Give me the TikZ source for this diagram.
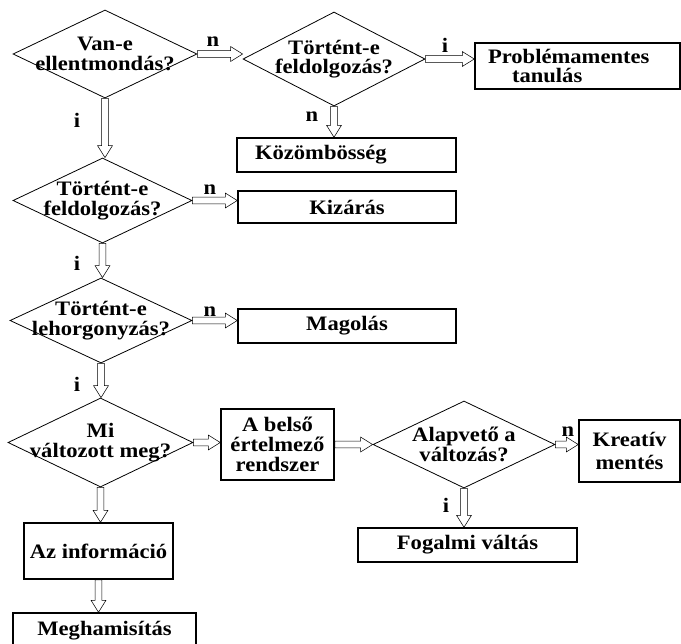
\documentclass[tikz,border=0pt]{standalone}
\usepackage{fontspec}
\setmainfont{Liberation Serif}[FakeStretch=1.1]
\usetikzlibrary{shapes.geometric}
\usetikzlibrary{calc}
\tikzset{
  Betu/.style={font=\fontsize{15.4pt}{14.8pt}\selectfont\bfseries}, % szoveg
  Dontes/.style 2 args={shape=diamond, draw, line width=0.6pt, Betu,
    minimum width={#1*0.75pt}, minimum height={#2*0.75pt},
    inner sep=-100pt, align=center}, % rombusz
  Doboz/.style 2 args={draw, line width=1.1pt, Betu,
    minimum width={#1*0.75pt}, minimum height={#2*0.75pt},
    inner sep=0pt, align=center}, % teglalap
  Felirat/.style={Betu}, % i / n
  JobbNyil/.style={draw, line width=0.6pt, to path={
    let \p1=(\tikztostart), \p2=(\tikztotarget) in
    (\x1,\y1+2.6pt) -- (\x2-9pt,\y1+2.6pt) -- (\x2-9pt,\y1+5.6pt) -- (\x2,\y1)
    -- (\x2-9pt,\y1-5.6pt) -- (\x2-9pt,\y1-2.6pt) -- (\x1,\y1-2.6pt) -- cycle}},
  LeNyil/.style={draw, line width=0.6pt, to path={
    let \p1=(\tikztostart), \p2=(\tikztotarget) in
    (\x1-2.6pt,\y1) -- (\x1-2.6pt,\y2+9pt) -- (\x1-5.6pt,\y2+9pt) -- (\x1,\y2)
    -- (\x1+5.6pt,\y2+9pt) -- (\x1+2.6pt,\y2+9pt) -- (\x1+2.6pt,\y1) -- cycle}}
}
\begin{document}
\begin{tikzpicture}[x=0.75pt, y=-0.75pt]
\useasboundingbox (0,0) rectangle (681,643);
\clip (0,0) rectangle (681,643);

%Rombuszok
\node[Dontes={184}{88}] (d1) at (105,54) {Van-e\\ellentmondás?};
\node[Dontes={182}{94}] (d2) at (334,59) {Történt-e\\feldolgozás?};
\node[Dontes={179}{85}] (d3) at (102.5,200.5) {Történt-e\\feldolgozás?};
\node[Dontes={182}{85}] (d4) at (101,320.5) {Történt-e\\lehorgonyzás?};
\node[Dontes={185}{89}] (d5) at (100.5,442.5) {Mi\\változott meg?};
\node[Dontes={182}{87}] (d6) at (464,444.5) {Alapvető a\\változás?};

%Dobozok
\node[Doboz={205}{46}, text width=134.25pt, inner xsep=9.75pt, align=left]
  (b1) at (577.5,66) {Problémamentes\\\hspace*{18pt}tanulás};
\node[Doboz={219}{34}, text width=137.25pt, inner xsep=13.5pt, align=left]
  (b2) at (346.5,155) {Közömbösség};
\node[Doboz={218}{32}] (b3) at (347,207) {Kizárás};
\node[Doboz={218}{34}] (b4) at (347,326) {Magolás};
\node[Doboz={113}{71}] (b5) at (277.5,444.5) {A belső\\értelmező\\rendszer};
\node[Doboz={101}{62}] (b6) at (629.5,451) {Kreatív\\[3pt]mentés};
\node[Doboz={219}{34}] (b7) at (467.5,545) {Fogalmi váltás};
\node[Doboz={149}{56}] (b8) at (98.5,551) {Az információ};
\node[Doboz={183}{36}] (b9) at (104.5,631) {Meghamisítás};

%Nyilak
\draw (d1.east) to[JobbNyil] (d2.west);
\draw (d2.east) to[JobbNyil] (b1.west);
\draw (d2.south) to[LeNyil] (b2.north);
\draw (d1.south) to[LeNyil] (d3.north);
\draw (d3.east) to[JobbNyil] (b3.west);
\draw (d3.south) to[LeNyil] (d4.north);
\draw (d4.east) to[JobbNyil] (b4.west);
\draw (d4.south) to[LeNyil] (d5.north);
\draw (d5.east) to[JobbNyil] (b5.west);
\draw (b5.east) to[JobbNyil] (d6.west);
\draw (d6.east) to[JobbNyil] (b6.west);
\draw (d6.south) to[LeNyil] (b7.north);
\draw (d5.south) to[LeNyil] (b8.north);
\draw (b8.south) to[LeNyil] (b9.north);

%Feliratok
\node[Felirat] (f1) at (213,42) {n};
\node[Felirat] (f2) at (445,45) {i};
\node[Felirat] (f3) at (312,117) {n};
\node[Felirat] (f4) at (77,120) {i};
\node[Felirat] (f5) at (210,190) {n};
\node[Felirat] (f6) at (77,263) {i};
\node[Felirat] (f7) at (210,312) {n};
\node[Felirat] (f8) at (77,384) {i};
\node[Felirat] (f9) at (568,432) {n};
\node[Felirat] (f10) at (446,505) {i};
\end{tikzpicture}
\end{document}
